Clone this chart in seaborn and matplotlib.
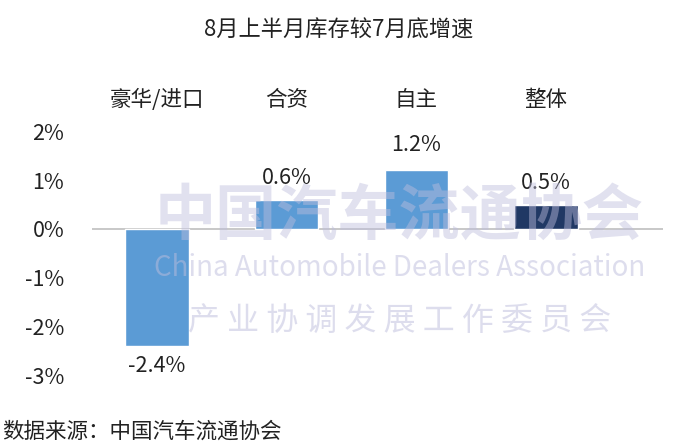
import numpy as np
import pandas as pd
import matplotlib
matplotlib.use("Agg")
import matplotlib.pyplot as plt
import matplotlib.ticker as mtick
import seaborn as sns

# data
categories = ["豪华/进口", "合资", "自主", "整体"]
growth = [-2.4, 0.6, 1.2, 0.5]
bar_colors = ["#5B9BD5", "#5B9BD5", "#5B9BD5", "#203864"]
title = "8月上半月库存较7月底增速"
source = "数据来源：中国汽车流通协会"

sns.set_theme(style="white")
plt.rcParams["font.family"] = ["Noto Sans CJK SC", "DejaVu Sans"]
plt.rcParams["axes.unicode_minus"] = False

df = pd.DataFrame({"cat": categories, "val": growth})

fig = plt.figure(figsize=(6.77, 4.47), dpi=100)
ax = fig.add_axes([0.136, 0.161, 0.843, 0.545])

sns.barplot(data=df, x="cat", y="val", hue="cat", palette=bar_colors,
            legend=False, width=0.49, saturation=1, ax=ax, zorder=2)

ax.set_ylim(-3, 2)
ax.set_xlim(-0.5, 3.9)
ax.yaxis.set_major_locator(mtick.MultipleLocator(1))
ax.yaxis.set_major_formatter(mtick.FuncFormatter(lambda v, p: f"{v:.0f}%"))
ax.tick_params(axis="y", labelsize=15.5, colors="#222222", length=0, pad=20)
ax.set_xticks([])
ax.set_xlabel("")
ax.set_ylabel("")
for s in ax.spines.values():
    s.set_visible(False)
ax.axhline(0, color="#BFBFBF", lw=1.2, zorder=1)

# value labels
for i, v in enumerate(growth):
    off = 0.22 if v >= 0 else -0.18
    if v > 1:
        off = 0.3
    ax.text(i, v + off, f"{v:.1f}%", ha="center",
            va="bottom" if v >= 0 else "top", fontsize=15.5, color="#222222")

# category labels at the top
for i, c in enumerate(categories):
    ax.text(i, 2.65, c, ha="center", va="center", fontsize=15.5, color="#222222")

fig.text(0.5, 0.933, title, ha="center", va="center", fontsize=16, color="#222222")
fig.text(0.003, 0.034, source, ha="left", va="center", fontsize=15.5, color="#222222")

# faint watermark (association name, drawn over the bars like the reference)
wm = "#BDBDDC"
fig.text(0.59, 0.515, "中国汽车流通协会", ha="center", va="center", fontsize=44,
         fontweight="bold", color=wm, alpha=0.45, zorder=10)
fig.text(0.59, 0.400, "China Automobile Dealers Association", ha="center",
         va="center", fontsize=20, color=wm, alpha=0.5, zorder=10)
fig.text(0.59, 0.283, "产 业 协 调 发 展 工 作 委 员 会", ha="center",
         va="center", fontsize=23, color=wm, alpha=0.5, zorder=10)

fig.savefig("out.png", dpi=100)
